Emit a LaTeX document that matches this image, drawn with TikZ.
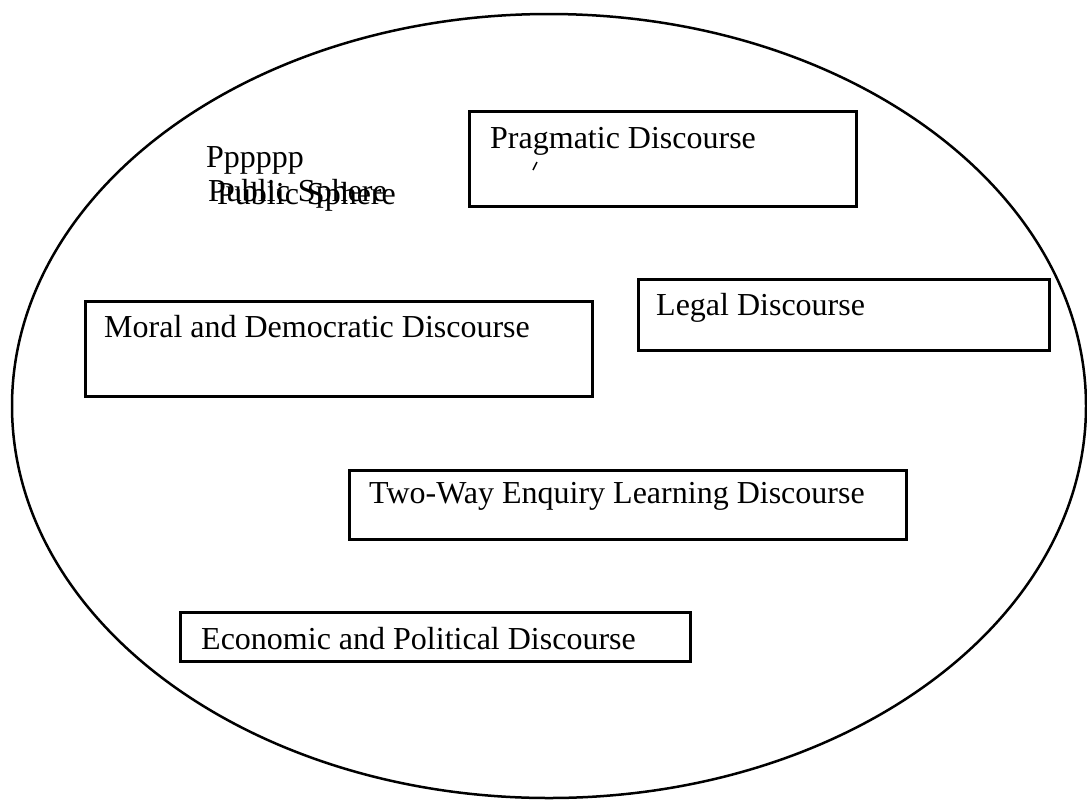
\documentclass[tikz,border=0pt]{standalone}
\usepackage{fontspec}
\setmainfont{Liberation Serif}
\begin{document}
\begin{tikzpicture}[x=1pt,y=-1pt,
  box/.style={draw, line width=2.5pt, inner sep=0pt, anchor=north west},
  lbl/.style={anchor=base west, inner sep=0pt, font=\fontsize{32}{38}\selectfont}]
\useasboundingbox (0,0) rectangle (1087,801);
\draw[line width=2.5pt] (549,406) ellipse [x radius=537, y radius=392];
% boxes
\node[box, minimum width=387pt, minimum height=95pt] (prag) at (468,110) {};
\node[box, minimum width=411pt, minimum height=71pt] (legal) at (637,278) {};
\node[box, minimum width=507pt, minimum height=95pt] (moral) at (84,300) {};
\node[box, minimum width=557pt, minimum height=69pt] (twoway) at (348,469) {};
\node[box, minimum width=510pt, minimum height=49pt] (econ) at (179,611) {};
% labels
\node[lbl] (tprag) at (490,148) {Pragmatic Discourse};
\node[lbl] (tlegal) at (656,315) {Legal Discourse};
\node[lbl] (tmoral) at (104,337) {Moral and Democratic Discourse};
\node[lbl] (ttwoway) at (369,503) {Two-Way Enquiry Learning Discourse};
\node[lbl] (tecon) at (201,649) {Economic and Political Discourse};
\node[lbl] (tp) at (206,167) {Pppppp};
\node[lbl] (tps1) at (208,201) {Public Sphere};
\node[lbl] (tps2) at (217,204) {Public Sphere};
% stray tick
\draw[line width=1.5pt] (533,170) -- (537,162);
\end{tikzpicture}
\end{document}
